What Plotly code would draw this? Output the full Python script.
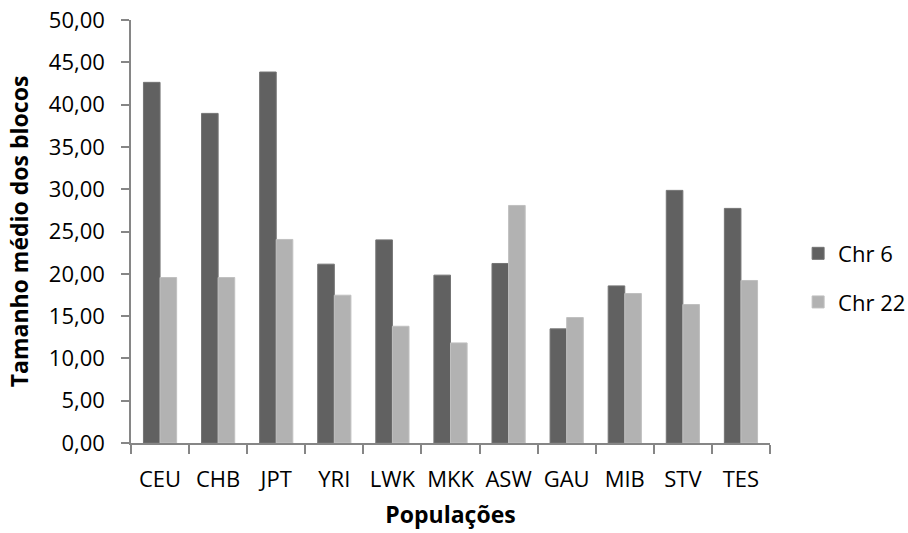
import plotly.graph_objects as go

populacoes = ["CEU", "CHB", "JPT", "YRI", "LWK", "MKK", "ASW", "GAU", "MIB", "STV", "TES"]
chr6 = [42.63, 38.96, 43.85, 21.14, 24.01, 19.84, 21.22, 13.49, 18.57, 29.86, 27.73]
chr22 = [19.56, 19.56, 24.06, 17.47, 13.80, 11.83, 28.08, 14.83, 17.67, 16.37, 19.21]
y_ticks = [0, 5, 10, 15, 20, 25, 30, 35, 40, 45, 50]

FONT = "Open Sans"
AXIS_GRAY = "#868686"

fig = go.Figure()
fig.add_trace(go.Bar(name="Chr 6", x=populacoes, y=chr6,
                     marker=dict(color="#616161", line=dict(color="#747474", width=1)),
                     legendgroup="a"))
fig.add_trace(go.Bar(name="Chr 22", x=populacoes, y=chr22,
                     marker=dict(color="#b2b2b2", line=dict(color="#c0c0c0", width=1)),
                     legendgroup="b"))

fig.update_layout(
    width=908, height=533,
    margin=dict(l=130.5, r=137.5, t=20, b=90.3, autoexpand=False),
    plot_bgcolor="white", paper_bgcolor="white",
    barmode="group", bargap=1.5 / 3.5, bargroupgap=0,
    font=dict(family=FONT, size=22, color="#000000"),
    showlegend=True,
    legend=dict(x=1.044, xanchor="left", y=0.39, yanchor="middle",
                traceorder="grouped", tracegroupgap=17,
                font=dict(family=FONT, size=22, color="#000000"),
                bgcolor="rgba(0,0,0,0)"),
    xaxis=dict(
        showline=True, linecolor=AXIS_GRAY, linewidth=1.5,
        ticks="outside", ticklen=9, tickcolor=AXIS_GRAY, tickwidth=1.5,
        tickson="boundaries", showgrid=False, zeroline=False,
        tickangle=0, automargin=False,
        ticklabelstandoff=16,
        title=dict(text="<b>Populações</b>", standoff=15,
                   font=dict(family=FONT, size=23, color="#000000")),
    ),
    yaxis=dict(
        range=[0, 50], tickvals=y_ticks, tickformat=".2f",
        showline=True, linecolor=AXIS_GRAY, linewidth=1.5,
        ticks="outside", ticklen=8, tickcolor=AXIS_GRAY, tickwidth=1.5,
        showgrid=False, zeroline=False, automargin=False,
        ticklabelstandoff=12,
        title=dict(text="<b>Tamanho médio dos blocos</b>", standoff=14,
                   font=dict(family=FONT, size=23, color="#000000")),
    ),
    separators=",.",
)

fig.write_html("out.html")
